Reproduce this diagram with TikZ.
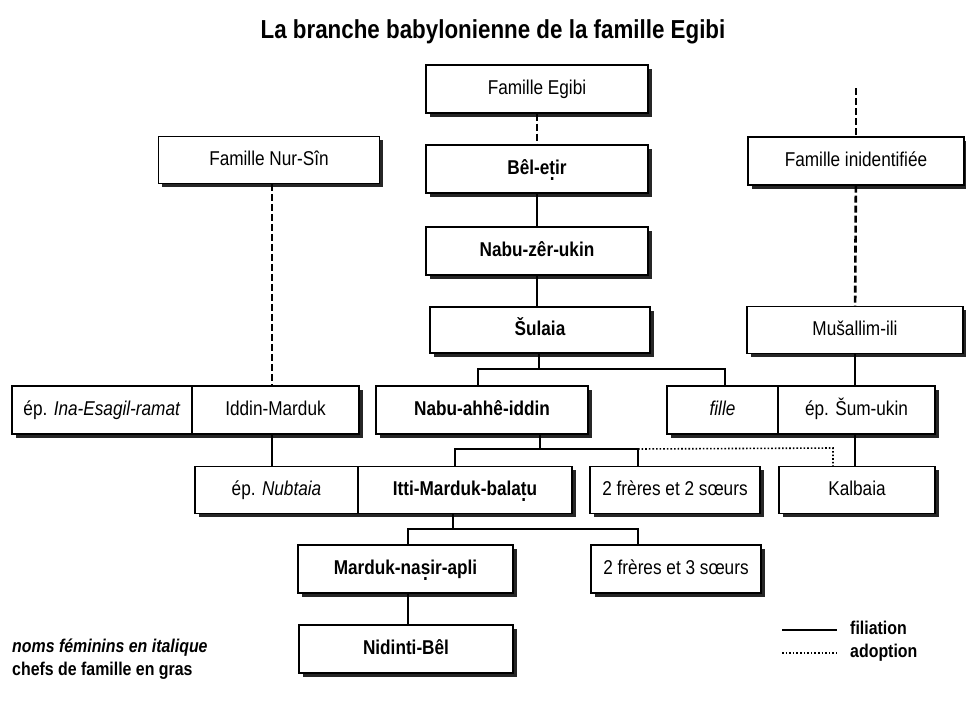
\documentclass[tikz,border=0pt]{standalone}
\usepackage{fontspec}
\setmainfont{Liberation Sans}[FakeStretch=0.86]
\usetikzlibrary{shadows}
\newcommand\dotb[1]{\ooalign{#1\cr\hidewidth\raisebox{-0.3em}{.}\hidewidth\cr}}
\begin{document}
\begin{tikzpicture}[x=1pt,y=-1pt,
  box/.style={draw,line width=1.4pt,fill=white,inner sep=0pt,minimum height=48pt,
    text height=14.5pt,text depth=3.5pt,
    font=\fontsize{20}{23}\selectfont,
    drop shadow={shadow xshift=3.5pt,shadow yshift=-3.5pt,fill=black!85,opacity=1}},
  bbox/.style={box,font=\fontsize{20}{23}\selectfont\bfseries},
  filia/.style={line width=2.5pt},
  dashc/.style={line width=2.6pt,dash pattern=on 7pt off 3pt},
  adopt/.style={line width=1.6pt,dash pattern=on 1.6pt off 2pt},
  note/.style={anchor=base west,inner sep=0pt,font=\fontsize{18.5}{21}\selectfont\bfseries},
  titlestyle/.style={anchor=base,inner sep=0pt,font=\fontsize{26}{29}\selectfont\bfseries}
]
\useasboundingbox (0,0) rectangle (966,704);

\node[titlestyle] (title) at (493,38) {La branche babylonienne de la famille Egibi};

% central column
\node[box,minimum width=222pt] (egibi) at (537,89) {Famille Egibi};
\node[bbox,minimum width=222pt] (bel) at (537,169) {Bêl-e\dotb{t}ir};
\node[bbox,minimum width=222pt] (zer) at (537,251) {Nabu-zêr-ukin};
\node[bbox,minimum width=220pt,minimum height=46pt] (sul) at (540,330) {Šulaia};

% side families
\node[box,minimum width=221pt,minimum height=47pt] (nur) at (269,160) {Famille Nur-Sîn};
\node[box,minimum width=216pt] (inid) at (856,161) {Famille inidentifiée};
\node[box,minimum width=216pt,minimum height=47pt] (mus) at (855,330) {Mušallim-ili};

% row 2
\node[box,minimum width=180pt] (ina) at (102,410) {ép. \textit{Ina-Esagil-ramat}};
\node[box,minimum width=167pt] (iddin) at (275.5,410) {Iddin-Marduk};
\node[bbox,minimum width=212pt] (ahhe) at (482,410) {Nabu-ahhê-iddin};
\node[box,minimum width=111pt] (fille) at (722.5,410) {\textit{fille}};
\node[box,minimum width=157pt] (sum) at (856.5,410) {ép. Šum-ukin};

% row 3
\node[box,minimum width=163pt,minimum height=47pt] (nub) at (276.5,490) {ép. \textit{Nubtaia}};
\node[bbox,minimum width=214pt,minimum height=47pt] (itti) at (465,490) {Itti-Marduk-bala\dotb{t}u};
\node[box,minimum width=170pt,minimum height=47pt] (fr2) at (675,490) {2 frères et 2 sœurs};
\node[box,minimum width=156pt,minimum height=47pt] (kal) at (857,490) {Kalbaia};

% row 4 and 5
\node[bbox,minimum width=215pt] (mna) at (405.5,569) {Marduk-na\dotb{s}ir-apli};
\node[box,minimum width=170pt] (fr3) at (676,569) {2 frères et 3 sœurs};
\node[bbox,minimum width=214pt] (nid) at (406,649) {Nidinti-Bêl};

% junction coordinates
\coordinate (xl) at (272,0);
\coordinate (top) at (856,88);
\coordinate (a0) at (539,369);
\coordinate (a1) at (478,369);
\coordinate (a2) at (725,369);
\coordinate (b0) at (540,449);
\coordinate (b1) at (455,449);
\coordinate (b2) at (638,449);
\coordinate (d1) at (833,448);
\coordinate (c0) at (453,529);
\coordinate (c1) at (408,529);
\coordinate (c2) at (638,529);

% connectors
\draw[dashc] (egibi) -- (bel);
\draw[filia] (bel) -- (zer);
\draw[filia] (zer.south) -- (zer.south |- sul.north);
\draw[filia] (sul.south -| a0) -- (a0);
\draw[filia,line join=miter] (ahhe.north -| a1) -- (a1) -- (a2) -- (fille.north -| a2);

\draw[dashc] (nur.south -| xl) -- (iddin.north -| xl);
\draw[filia] (iddin.south -| xl) -- (nub.north -| xl);

\draw[dashc] (top) -- (inid);
\draw[dashc] (inid) -- (mus);
\draw[filia] (mus) -- (mus |- sum.north);
\draw[filia] (sum.south -| mus) -- (kal.north -| mus);

\draw[filia] (ahhe.south -| b0) -- (b0);
\draw[filia,line join=miter] (itti.north -| b1) -- (b1) -- (b2) -- (fr2.north -| b2);
\draw[adopt] (b2) -- (d1) -- (kal.north -| d1);

\draw[filia] (itti.south -| c0) -- (c0);
\draw[filia,line join=miter] (mna.north -| c1) -- (c1) -- (c2) -- (fr3.north -| c2);
\draw[filia] (mna.south -| c1) -- (nid.north -| c1);

% notes
\node[note,font=\fontsize{18.5}{21}\selectfont\bfseries\itshape] (n1) at (12,652) {noms féminins en italique};
\node[note] (n2) at (12,675) {chefs de famille en gras};

% legend
\coordinate (l1) at (782,630);
\coordinate (l2) at (837,630);
\coordinate (l3) at (782,653);
\coordinate (l4) at (837,653);
\draw[filia] (l1) -- (l2);
\draw[adopt] (l3) -- (l4);
\node[note] (lf) at (850,634) {filiation};
\node[note] (la) at (850,657) {adoption};
\end{tikzpicture}
\end{document}
